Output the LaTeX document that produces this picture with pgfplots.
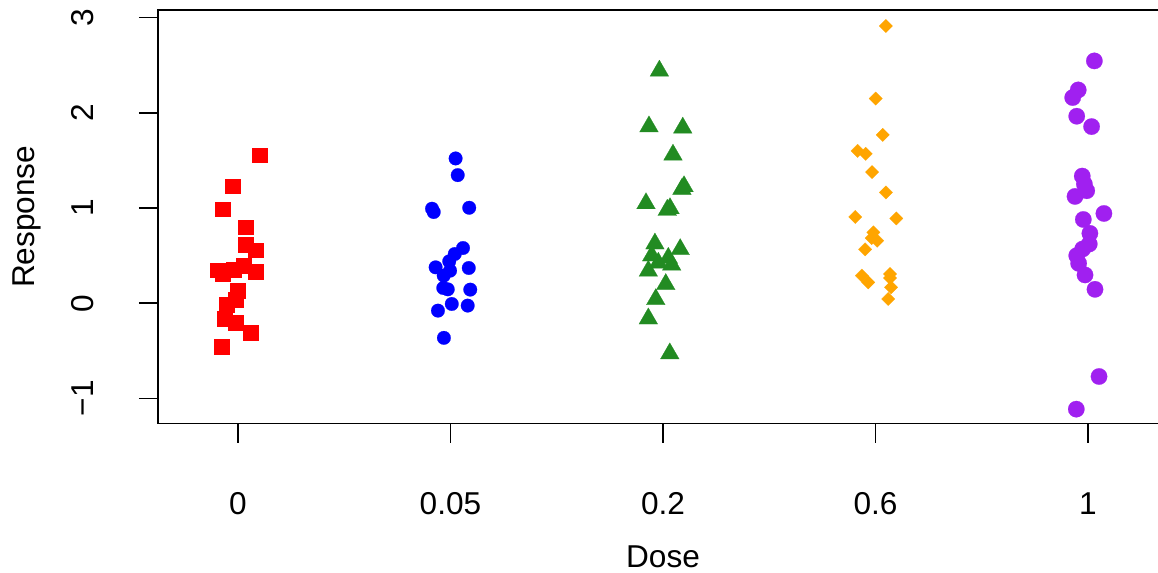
\documentclass[border=0pt]{standalone}
\usepackage{fontspec}
\setmainfont{Liberation Sans}
\usepackage{pgfplots}
\pgfplotsset{compat=1.18}
\definecolor{rred}{HTML}{FF0000}
\definecolor{rblue}{HTML}{0000FF}
\definecolor{rgreen}{HTML}{228B22}
\definecolor{rorange}{HTML}{FFA500}
\definecolor{rpurple}{HTML}{A020F0}
\begin{document}
\begin{tikzpicture}
\begin{axis}[
  scale only axis, width=505pt, height=206.85pt,
  xmin=0.6235, xmax=5.3765, ymin=-1.266, ymax=3.081,
  xtick={1,2,3,4,5}, xticklabels={0,0.05,0.2,0.6,1},
  ytick={-1,0,1,2,3}, yticklabels={−1,0,1,2,3},
  tick align=outside, major tick length=9.6pt,
  xtick pos=bottom, ytick pos=left,
  axis line style={line width=0.75pt},
  tick style={line width=0.75pt, black},
  every tick label/.append style={font=\fontsize{15.8}{18}\selectfont},
  xticklabel style={anchor=base, inner sep=0pt, yshift=-35.6pt},
  yticklabel style={xshift=-22.5pt, rotate=90, anchor=base, inner sep=0pt},
  xlabel={Dose}, ylabel={Response},
  xlabel style={at={([yshift=-72pt]axis description cs:0.5,0)}, anchor=base, inner sep=0pt, font=\fontsize{15.8}{18}\selectfont},
  ylabel style={at={([xshift=-61.5pt]axis description cs:0,0.5)}, anchor=base, inner sep=0pt, font=\fontsize{15.8}{18}\selectfont},
  clip=false,
]
% Dose 0
\addplot[only marks, mark=square*, mark size=3.7pt, mark options={fill=rred, draw=rred, line width=0.1pt}] table {
x y
1.100 1.556
0.973 1.231
0.926 0.989
1.034 0.800
1.034 0.612
1.081 0.559
0.903 0.349
0.926 0.307
0.978 0.356
1.025 0.395
1.081 0.328
0.997 0.129
0.987 0.035
0.947 -0.018
0.936 -0.165
0.987 -0.207
1.058 -0.312
0.921 -0.459
};
% Dose 0.05
\addplot[only marks, mark=*, mark size=3.4pt, mark options={fill=rblue, draw=rblue, line width=0.1pt}] table {
x y
2.024 1.521
2.034 1.346
1.913 0.993
1.921 0.958
2.088 1.003
2.059 0.580
2.020 0.517
1.994 0.440
1.930 0.377
1.998 0.342
1.968 0.290
2.086 0.370
1.966 0.160
1.987 0.146
2.093 0.143
2.006 -0.008
2.081 -0.025
1.941 -0.078
1.969 -0.364
};
% Dose 0.2
\addplot[only marks, mark=triangle*, mark size=5.4pt, mark options={fill=rgreen, draw=rgreen, line width=0.1pt}] table {
x y
2.983 2.442
2.934 1.856
3.093 1.843
3.047 1.559
3.099 1.227
3.089 1.199
2.920 1.048
3.033 0.996
3.020 0.979
2.962 0.625
3.081 0.566
2.947 0.500
3.025 0.475
2.978 0.423
3.041 0.402
2.931 0.339
3.013 0.199
2.966 0.041
2.931 -0.162
3.032 -0.529
};
% Dose 0.6
\addplot[only marks, mark=square*, mark size=2.36pt, mark options={rotate=45, fill=rorange, draw=rorange, line width=0.1pt}] table {
x y
4.049 2.913
4.001 2.150
4.034 1.769
3.916 1.601
3.954 1.570
3.984 1.378
4.049 1.164
3.905 0.906
4.098 0.891
3.990 0.744
3.982 0.685
4.008 0.657
3.951 0.566
3.936 0.290
3.966 0.219
4.068 0.307
4.068 0.265
4.073 0.167
4.060 0.045
};
% Dose 1
\addplot[only marks, mark=*, mark size=4.1pt, mark options={fill=rpurple, draw=rpurple, line width=0.1pt}] table {
x y
5.030 2.546
4.954 2.241
4.928 2.161
4.947 1.965
5.017 1.856
4.973 1.336
4.994 1.182
4.983 1.252
4.939 1.122
5.075 0.943
4.978 0.880
5.009 0.734
5.006 0.622
4.975 0.570
4.947 0.500
4.956 0.419
4.986 0.297
5.033 0.146
5.052 -0.770
4.945 -1.113
};
\end{axis}
\pgfresetboundingbox
\path[use as bounding box] ([xshift=-79pt,yshift=-74.5pt]current axis.south west) rectangle ([xshift=-5pt,yshift=5pt]current axis.north east);
\end{tikzpicture}
\end{document}
